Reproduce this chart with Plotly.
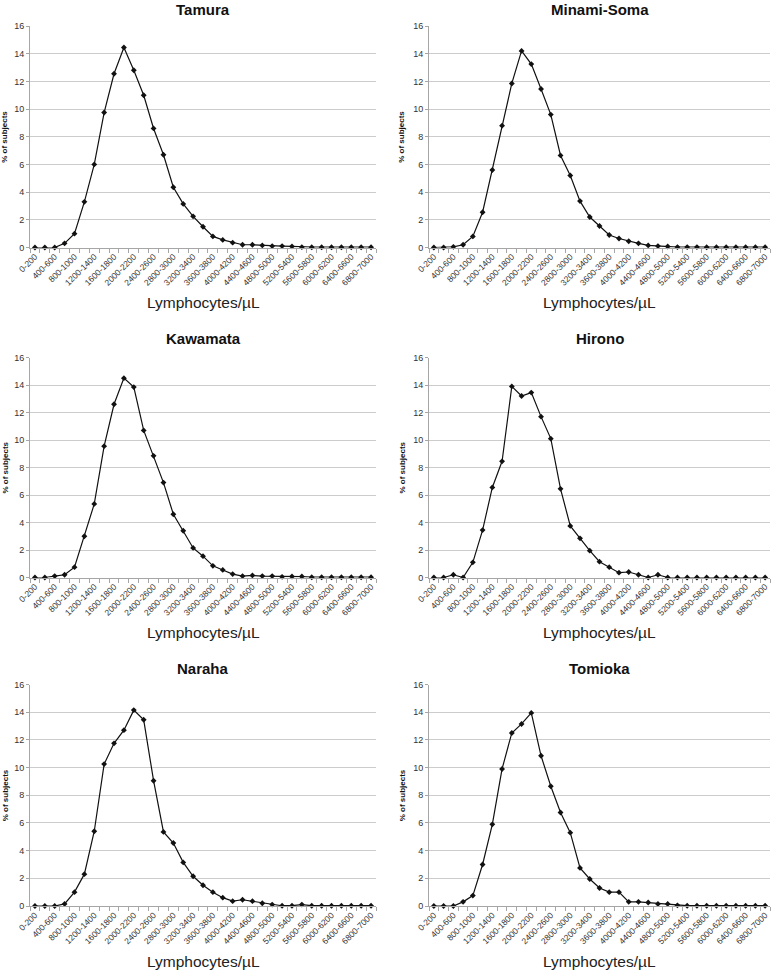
import plotly.graph_objects as go

categories = ["0-200", "200-400", "400-600", "600-800", "800-1000", "1000-1200", "1200-1400",
              "1400-1600", "1600-1800", "1800-2000", "2000-2200", "2200-2400", "2400-2600",
              "2600-2800", "2800-3000", "3000-3200", "3200-3400", "3400-3600", "3600-3800",
              "3800-4000", "4000-4200", "4200-4400", "4400-4600", "4600-4800", "4800-5000",
              "5000-5200", "5200-5400", "5400-5600", "5600-5800", "5800-6000", "6000-6200",
              "6200-6400", "6400-6600", "6600-6800", "6800-7000"]

tamura = [0, 0, 0, 0.3, 1.0, 3.3, 6.0, 9.75, 12.55, 14.45, 12.8, 11.0, 8.6, 6.7, 4.35, 3.15,
          2.25, 1.5, 0.8, 0.55, 0.35, 0.2, 0.2, 0.15, 0.1, 0.1, 0.08, 0.03, 0.02, 0.02, 0.02,
          0.02, 0.02, 0.02, 0.02]
minami_soma = [0, 0, 0.05, 0.2, 0.8, 2.55, 5.6, 8.8, 11.85, 14.2, 13.25, 11.45, 9.6, 6.65, 5.2,
               3.35, 2.2, 1.55, 0.9, 0.65, 0.45, 0.3, 0.15, 0.1, 0.07, 0.03, 0.03, 0.03, 0.02,
               0.02, 0.02, 0.02, 0.02, 0.02, 0.02]
kawamata = [0, 0, 0.1, 0.2, 0.75, 3.0, 5.35, 9.55, 12.6, 14.5, 13.85, 10.7, 8.85, 6.9, 4.6, 3.4,
            2.15, 1.55, 0.85, 0.55, 0.25, 0.1, 0.15, 0.1, 0.1, 0.05, 0.07, 0.07, 0.02, 0.02,
            0.02, 0.02, 0.02, 0.02, 0.02]
hirono = [0, 0, 0.2, 0, 1.1, 3.45, 6.55, 8.45, 13.9, 13.2, 13.45, 11.7, 10.1, 6.45, 3.75, 2.85,
          1.95, 1.15, 0.75, 0.35, 0.4, 0.2, 0, 0.2, 0, 0, 0, 0, 0, 0, 0, 0, 0, 0, 0]
naraha = [0, 0, 0, 0.15, 1.0, 2.3, 5.4, 10.25, 11.75, 12.7, 14.15, 13.45, 9.05, 5.35, 4.55, 3.15,
          2.15, 1.5, 1.0, 0.6, 0.35, 0.45, 0.35, 0.2, 0.1, 0.02, 0.02, 0.1, 0.02, 0.02, 0.02,
          0.02, 0.02, 0.02, 0.02]
tomioka = [0, 0, 0, 0.3, 0.75, 3.0, 5.9, 9.9, 12.5, 13.15, 13.95, 10.85, 8.65, 6.75, 5.3, 2.75,
           1.95, 1.3, 1.0, 1.0, 0.3, 0.3, 0.25, 0.15, 0.15, 0.05, 0.02, 0.02, 0.02, 0.02, 0.02,
           0.02, 0.02, 0.02, 0.02]

panel_titles = ["Tamura", "Minami-Soma", "Kawamata", "Hirono", "Naraha", "Tomioka"]
panel_series = [tamura, minami_soma, kawamata, hirono, naraha, tomioka]

W, H = 774, 970
# pixel boxes (left, right, top, bottom)
col_x = [(30, 376), (429, 770)]
row_y = [(26, 247.5), (357.5, 577.5), (684.5, 906)]
title_y = [9.5, 338, 668]
xtitle_y = [302, 632, 961]
ytitle_x = [5, 402]

ticktext = [c if i % 2 == 0 else "" for i, c in enumerate(categories)]
FONT = "Liberation Sans, Arial, sans-serif"

fig = go.Figure()
annotations = []
for k, (name, vals) in enumerate(zip(panel_titles, panel_series)):
    r, c = divmod(k, 2)
    sfx = "" if k == 0 else str(k + 1)
    fig.add_trace(go.Scatter(
        x=categories, y=vals, mode="lines+markers",
        line=dict(color="#111111", width=1.2),
        marker=dict(symbol="diamond", size=4.5, color="#111111"),
        xaxis="x" + sfx, yaxis="y" + sfx, showlegend=False, cliponaxis=False,
        hoverinfo="skip",
    ))
    x0, x1 = col_x[c]
    y0, y1 = row_y[r]
    xd = [x0 / W, x1 / W]
    yd = [1 - y1 / H, 1 - y0 / H]
    fig.layout["xaxis" + sfx] = dict(
        domain=xd, anchor="y" + sfx, type="category", range=[-0.5, 34.5],
        tickmode="array", tickvals=categories, ticktext=ticktext, tickson="boundaries",
        ticks="outside", ticklen=4, tickcolor="#a6a6a6", tickangle=-45,
        tickfont=dict(family=FONT, size=8.5, color="#333333"),
        showline=True, linecolor="#a6a6a6", linewidth=1, showgrid=False, zeroline=False,
        fixedrange=True, automargin=False,
    )
    fig.layout["yaxis" + sfx] = dict(
        domain=yd, anchor="x" + sfx, range=[0, 16], dtick=2, tick0=0,
        ticks="outside", ticklen=3, tickcolor="#a6a6a6",
        tickfont=dict(family=FONT, size=9, color="#333333"),
        showline=True, linecolor="#a6a6a6", linewidth=1,
        showgrid=True, gridcolor="#cccccc", gridwidth=1, zeroline=False, fixedrange=True,
        automargin=False,
    )
    cx = (x0 + x1) / 2 / W
    annotations.append(dict(text="<b>" + name + "</b>", x=cx, y=1 - title_y[r] / H,
                            xref="paper", yref="paper", showarrow=False,
                            xanchor="center", yanchor="middle",
                            font=dict(family=FONT, size=15, color="#111111")))
    annotations.append(dict(text="Lymphocytes/µL", x=cx, y=1 - xtitle_y[r] / H,
                            xref="paper", yref="paper", showarrow=False,
                            xanchor="center", yanchor="middle",
                            font=dict(family=FONT, size=15.5, color="#222222")))
    annotations.append(dict(text="<b>% of subjects</b>", x=ytitle_x[c] / W,
                            y=1 - (y0 + y1) / 2 / H, textangle=-90,
                            xref="paper", yref="paper", showarrow=False,
                            xanchor="center", yanchor="middle",
                            font=dict(family=FONT, size=8, color="#111111")))

fig.update_layout(
    width=W, height=H, margin=dict(l=0, r=0, t=0, b=0, pad=0, autoexpand=False),
    paper_bgcolor="white", plot_bgcolor="white",
    annotations=annotations, hovermode=False,
)
fig.write_html("out.html", config={"displayModeBar": False},
               post_script="document.body.style.margin='0';document.body.style.overflow='hidden';")
